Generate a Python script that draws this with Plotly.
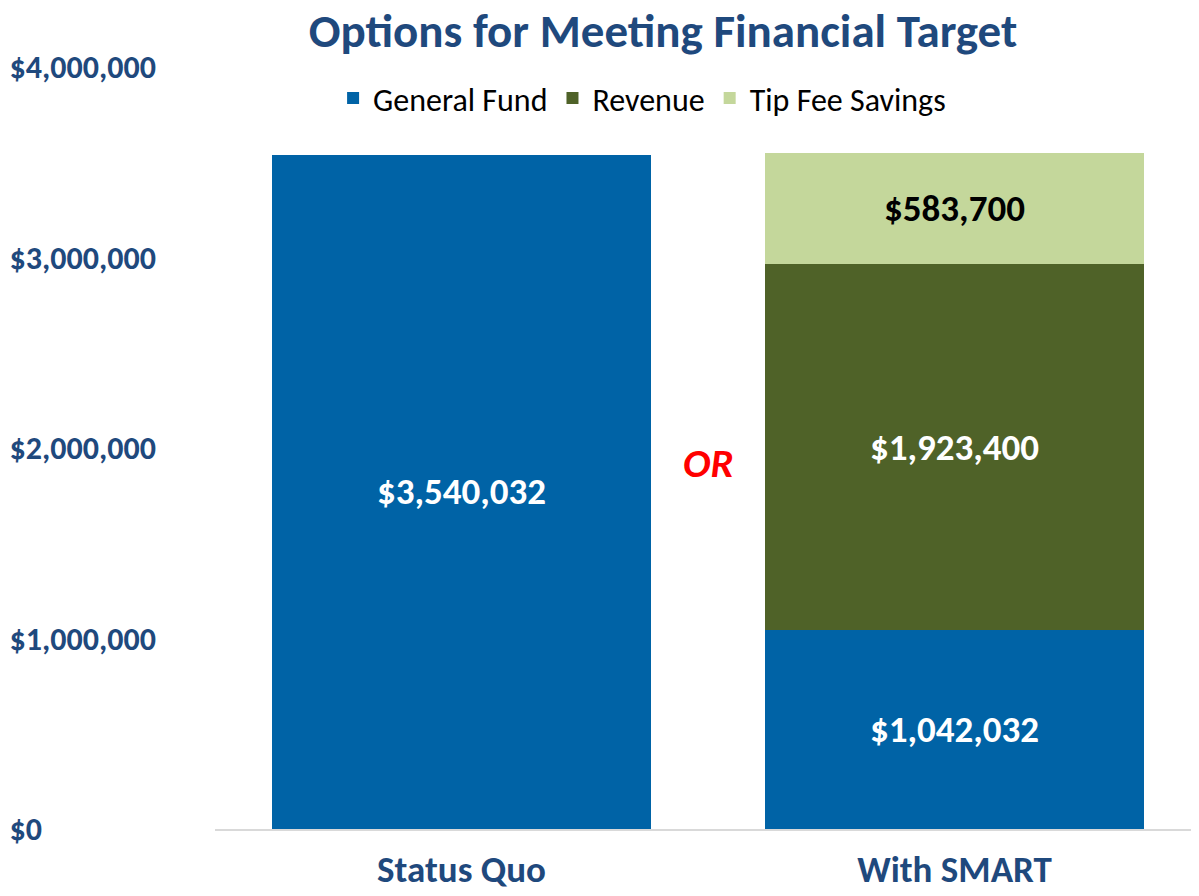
import plotly.graph_objects as go

categories = ["Status Quo", "With SMART"]
general_fund = [3540032, 1042032]
revenue = [None, 1923400]
tip_fee_savings = [None, 583700]
series_names = ["General Fund", "Revenue", "Tip Fee Savings"]
y_tick_values = [0, 1000000, 2000000, 3000000, 4000000]
y_tick_labels = ["$0", "$1,000,000", "$2,000,000", "$3,000,000", "$4,000,000"]

FONT = "Carlito, Lato, sans-serif"
NAVY = "#1F497D"
colors = ["#0063A6", "#4F6228", "#C4D79B"]
label_colors = ["white", "white", "black"]

# page has an 8px body margin: figure is sized to fit the 1199x896 window exactly
W, H = 1183, 880

fig = go.Figure()
for name, vals, col, lc in zip(series_names, [general_fund, revenue, tip_fee_savings], colors, label_colors):
    fig.add_trace(go.Bar(
        name=name, x=categories, y=vals, marker=dict(color=col, line=dict(width=0)),
        texttemplate="$%{y:,.0f}", textposition="inside", insidetextanchor="middle",
        textfont=dict(family=FONT, size=37, color=lc, weight="bold"),
        textangle=0, cliponaxis=False,
    ))

fig.add_annotation(x=0.5, y=1.92e6, xref="x", yref="y", text="<b><i>OR</i></b>",
                   showarrow=False, font=dict(family=FONT, size=41, color="#FF0000"))

fig.update_layout(
    width=W, height=H,
    barmode="stack", bargap=0.231,
    plot_bgcolor="white", paper_bgcolor="white",
    margin=dict(l=0, r=0, t=58.6, b=59, autoexpand=False),
    title=dict(text="<b>Options for Meeting Financial Target</b>", x=655 / W, xanchor="center",
               y=1 - 23 / H, yanchor="middle", font=dict(family=FONT, size=47, color=NAVY)),
    legend=dict(orientation="h", x=0.536, xanchor="center", y=0.959, yanchor="middle",
                font=dict(family=FONT, size=32, color="black"), traceorder="normal",
                bgcolor="rgba(0,0,0,0)"),
    xaxis=dict(domain=[207 / W, 1], range=[-0.5, 1.5 - 10 / 493], autorange=False,
               automargin=False,
               showline=True, linecolor="#D9D9D9", linewidth=2,
               showgrid=False, ticks="", ticklabelstandoff=7,
               tickfont=dict(family=FONT, size=37, color=NAVY, weight="bold")),
    yaxis=dict(range=[0, 4000000], autorange=False, anchor="free", position=0,
               automargin=False,
               showgrid=False, zeroline=False,
               showline=False, ticks="inside", ticklen=4, tickcolor="rgba(0,0,0,0)",
               ticklabelposition="inside", ticklabeloverflow="allow",
               tickvals=y_tick_values, ticktext=y_tick_labels,
               tickfont=dict(family=FONT, size=32, color=NAVY, weight="bold")),
)

fig.write_html("out.html")
